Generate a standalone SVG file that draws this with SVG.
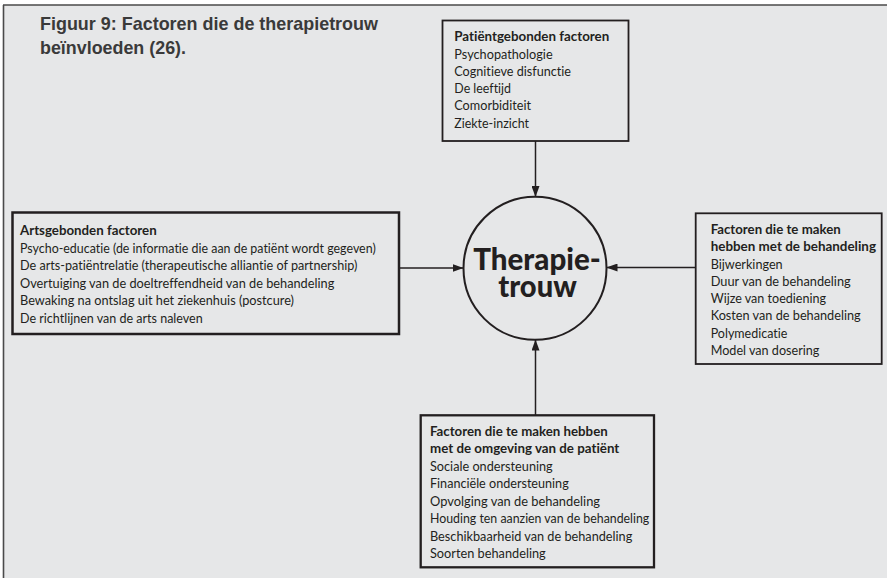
<svg xmlns="http://www.w3.org/2000/svg" width="887" height="578" viewBox="0 0 887 578">
<defs>
<marker id="ah" viewBox="0 0 11 8" refX="11" refY="4" markerWidth="11" markerHeight="8" markerUnits="userSpaceOnUse" orient="auto">
<path d="M0,0 L11,4 L0,8 z" fill="#231f20"/>
</marker>
<style>
text{font-variant-ligatures:none;font-feature-settings:"liga" 0,"clig" 0,"dlig" 0}
.box{fill:#e6e7e8;stroke:#231f20}
.t{font-family:Lato,"Liberation Sans",sans-serif;font-size:13px;fill:#231f20}
.b{font-weight:bold}
.title{font-family:"Liberation Sans",Arial,sans-serif;font-size:18.5px;font-weight:bold;fill:#3a3a3a}
.ctr{font-family:Lato,"Liberation Sans",sans-serif;font-size:30px;font-weight:900;fill:#231f20;text-anchor:middle}
.con{stroke:#231f20;stroke-width:1.5;fill:none;marker-end:url(#ah)}
</style>
</defs>
<rect x="0" y="0" width="887" height="578" fill="#ffffff"/>
<rect x="3.5" y="5" width="884" height="574" fill="#e6e7e8"/>
<line x1="3" y1="5" x2="887" y2="5" stroke="#4a4a4a" stroke-width="1.6"/>
<line x1="3.5" y1="5" x2="3.5" y2="578" stroke="#4a4a4a" stroke-width="1.6"/>

<g id="title">
<text class="title" x="40" y="30" textLength="338" lengthAdjust="spacingAndGlyphs">Figuur 9: Factoren die de therapietrouw</text>
<text class="title" x="40" y="54" textLength="146" lengthAdjust="spacingAndGlyphs">beïnvloeden (26).</text>
</g>

<g id="connectors">
<line class="con" x1="535.5" y1="141" x2="535.5" y2="197"/>
<line class="con" x1="399" y1="268" x2="463.5" y2="268"/>
<line class="con" x1="695.5" y1="267.5" x2="606.5" y2="267.5"/>
<line class="con" x1="535.5" y1="415" x2="535.5" y2="339.5"/>
</g>

<g id="center">
<circle cx="535" cy="268.3" r="71.5" fill="#e6e7e8" stroke="#231f20" stroke-width="2"/>
<text class="ctr" x="537" y="269.5" textLength="127.5" lengthAdjust="spacingAndGlyphs">Therapie-</text>
<text class="ctr" x="537.5" y="297" textLength="78.5" lengthAdjust="spacingAndGlyphs">trouw</text>
</g>

<g id="patient">
<rect class="box" x="442.5" y="20.5" width="186" height="120.5" stroke-width="1.8"/>
<text class="t b" x="454.3" y="41" textLength="155" lengthAdjust="spacingAndGlyphs">Patiëntgebonden factoren</text>
<text class="t" x="454.3" y="58.5" textLength="98.3" lengthAdjust="spacingAndGlyphs">Psychopathologie</text>
<text class="t" x="454.3" y="75.8" textLength="116.7" lengthAdjust="spacingAndGlyphs">Cognitieve disfunctie</text>
<text class="t" x="454.3" y="93.1" textLength="56.7" lengthAdjust="spacingAndGlyphs">De leeftijd</text>
<text class="t" x="454.3" y="110.4" textLength="76.7" lengthAdjust="spacingAndGlyphs">Comorbiditeit</text>
<text class="t" x="454.3" y="127.7" textLength="74.7" lengthAdjust="spacingAndGlyphs">Ziekte-inzicht</text>
</g>

<g id="arts">
<rect class="box" x="12.5" y="212.5" width="386.5" height="121.5" stroke-width="2.5"/>
<text class="t b" x="20" y="235" textLength="136.7" lengthAdjust="spacingAndGlyphs">Artsgebonden factoren</text>
<text class="t" x="20" y="253" textLength="355.7" lengthAdjust="spacingAndGlyphs">Psycho-educatie (de informatie die aan de patiënt wordt gegeven)</text>
<text class="t" x="20" y="270.4" textLength="337.3" lengthAdjust="spacingAndGlyphs">De arts-patiëntrelatie (therapeutische alliantie of partnership)</text>
<text class="t" x="20" y="287.8" textLength="314.3" lengthAdjust="spacingAndGlyphs">Overtuiging van de doeltreffendheid van de behandeling</text>
<text class="t" x="20" y="305.2" textLength="274" lengthAdjust="spacingAndGlyphs">Bewaking na ontslag uit het ziekenhuis (postcure)</text>
<text class="t" x="20" y="322.6" textLength="182.7" lengthAdjust="spacingAndGlyphs">De richtlijnen van de arts naleven</text>
</g>

<g id="behandeling">
<rect class="box" x="695.7" y="213.3" width="186" height="150.7" stroke-width="1.8"/>
<text class="t b" x="710.7" y="234" textLength="130" lengthAdjust="spacingAndGlyphs">Factoren die te maken</text>
<text class="t b" x="710.7" y="251.2" textLength="165.3" lengthAdjust="spacingAndGlyphs">hebben met de behandeling</text>
<text class="t" x="710.7" y="268.5" textLength="72" lengthAdjust="spacingAndGlyphs">Bijwerkingen</text>
<text class="t" x="710.7" y="285.8" textLength="140" lengthAdjust="spacingAndGlyphs">Duur van de behandeling</text>
<text class="t" x="710.7" y="303.1" textLength="115.3" lengthAdjust="spacingAndGlyphs">Wijze van toediening</text>
<text class="t" x="710.7" y="320.4" textLength="150" lengthAdjust="spacingAndGlyphs">Kosten van de behandeling</text>
<text class="t" x="710.7" y="337.7" textLength="76.7" lengthAdjust="spacingAndGlyphs">Polymedicatie</text>
<text class="t" x="710.7" y="355" textLength="108.7" lengthAdjust="spacingAndGlyphs">Model van dosering</text>
</g>

<g id="omgeving">
<rect class="box" x="420.7" y="415.3" width="233.3" height="152" stroke-width="2.3"/>
<text class="t b" x="430" y="435.7" textLength="177.7" lengthAdjust="spacingAndGlyphs">Factoren die te maken hebben</text>
<text class="t b" x="430" y="453.2" textLength="189.3" lengthAdjust="spacingAndGlyphs">met de omgeving van de patiënt</text>
<text class="t" x="430" y="470.6" textLength="122.7" lengthAdjust="spacingAndGlyphs">Sociale ondersteuning</text>
<text class="t" x="430" y="488" textLength="138.7" lengthAdjust="spacingAndGlyphs">Financiële ondersteuning</text>
<text class="t" x="430" y="505.5" textLength="170" lengthAdjust="spacingAndGlyphs">Opvolging van de behandeling</text>
<text class="t" x="430" y="523" textLength="219.3" lengthAdjust="spacingAndGlyphs">Houding ten aanzien van de behandeling</text>
<text class="t" x="430" y="540.5" textLength="202.3" lengthAdjust="spacingAndGlyphs">Beschikbaarheid van de behandeling</text>
<text class="t" x="430" y="558" textLength="115.7" lengthAdjust="spacingAndGlyphs">Soorten behandeling</text>
</g>
</svg>
